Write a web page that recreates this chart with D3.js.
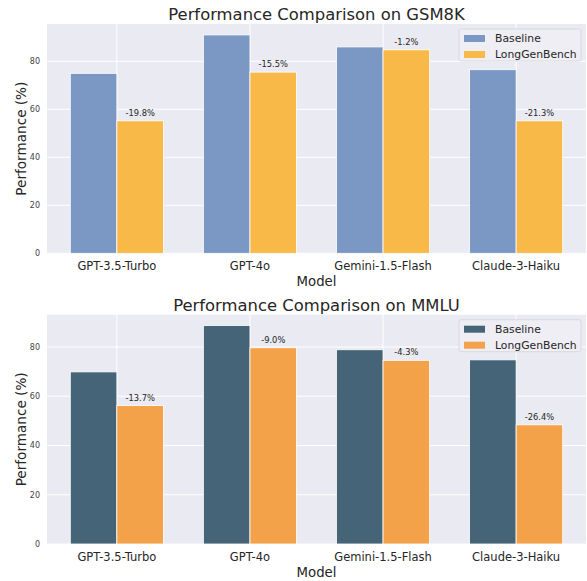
<!DOCTYPE html>
<html>
<head>
<meta charset="utf-8">
<script src="https://cdn.jsdelivr.net/npm/d3@7"></script>
<style>
  body { margin: 0; background: #fff; }
  svg { display: block; font-family: "DejaVu Sans", sans-serif; }
</style>
</head>
<body>
<svg id="chart" width="587" height="581"></svg>
<script>
// data
const models = ["GPT-3.5-Turbo", "GPT-4o", "Gemini-1.5-Flash", "Claude-3-Haiku"];
const seriesNames = ["Baseline", "LongGenBench"];
const yTicks = [0, 20, 40, 60, 80];

const gsmBaseline = [75.0, 91.0, 86.0, 76.5];
const gsmLongGen = [55.2, 75.5, 84.8, 55.2];
const gsmDrops = ["-19.8%", "-15.5%", "-1.2%", "-21.3%"];

const mmluBaseline = [69.9, 88.7, 78.9, 74.8];
const mmluLongGen = [56.2, 79.7, 74.6, 48.4];
const mmluDrops = ["-13.7%", "-9.0%", "-4.3%", "-26.4%"];

const svg = d3.select("#chart");
const textColor = "#262626";
const barW = 0.35;

function drawPanel(opts) {
    const { top, bottom, title, baseline, longgen, drops, colors } = opts;
    const left = 47, right = 586;

    const x = d3.scaleLinear().domain([-0.525, models.length - 1 + 0.525]).range([left, right]);
    const ymax = d3.max(baseline.concat(longgen)) * 1.05;
    const y = d3.scaleLinear().domain([0, ymax]).range([bottom, top]);

    const g = svg.append("g");

    // background
    g.append("rect")
        .attr("x", left).attr("y", top)
        .attr("width", right - left).attr("height", bottom - top)
        .attr("fill", "#eaeaf2");

    // grid
    g.append("g").selectAll("line.h")
        .data(yTicks)
        .join("line")
        .attr("x1", left).attr("x2", right)
        .attr("y1", d => y(d)).attr("y2", d => y(d))
        .attr("stroke", "#fff").attr("stroke-width", 1);
    g.append("g").selectAll("line.v")
        .data(models.map((m, i) => i))
        .join("line")
        .attr("x1", d => x(d)).attr("x2", d => x(d))
        .attr("y1", top).attr("y2", bottom)
        .attr("stroke", "#fff").attr("stroke-width", 1);

    // bars
    const series = [baseline, longgen];
    series.forEach((vals, s) => {
        g.append("g").selectAll("rect")
            .data(vals)
            .join("rect")
            .attr("x", (d, i) => x(i + (s === 0 ? -barW : 0)))
            .attr("y", d => y(d))
            .attr("width", x(barW) - x(0))
            .attr("height", d => bottom - y(d))
            .attr("fill", colors[s])
            .attr("stroke", "#fff")
            .attr("stroke-width", 0.8);
    });

    // drop labels
    g.append("g").selectAll("text")
        .data(longgen)
        .join("text")
        .attr("x", (d, i) => x(i + barW / 2))
        .attr("y", d => y(d) - 5)
        .attr("text-anchor", "middle")
        .attr("font-size", 8.3)
        .attr("fill", textColor)
        .text((d, i) => drops[i]);

    // y ticks
    g.append("g").selectAll("text")
        .data(yTicks)
        .join("text")
        .attr("x", 40)
        .attr("y", d => y(d))
        .attr("dy", "0.35em")
        .attr("text-anchor", "end")
        .attr("font-size", 8)
        .attr("fill", "#444")
        .text(d => d);

    // x ticks
    g.append("g").selectAll("text")
        .data(models)
        .join("text")
        .attr("x", (d, i) => x(i))
        .attr("y", bottom + 17)
        .attr("text-anchor", "middle")
        .attr("font-size", 11.5)
        .attr("fill", textColor)
        .text(d => d);

    // axis labels + title
    g.append("text")
        .attr("x", (left + right) / 2).attr("y", bottom + 33)
        .attr("text-anchor", "middle")
        .attr("font-size", 13.3)
        .attr("fill", textColor)
        .text("Model");
    g.append("text")
        .attr("transform", `translate(26,${(top + bottom) / 2}) rotate(-90)`)
        .attr("text-anchor", "middle")
        .attr("font-size", 13.6)
        .attr("fill", textColor)
        .text("Performance (%)");
    g.append("text")
        .attr("x", (left + right) / 2).attr("y", top - 4)
        .attr("text-anchor", "middle")
        .attr("font-size", 16.4)
        .attr("fill", textColor)
        .text(title);

    // legend
    const lx = 459, ly = top + 5;
    const leg = g.append("g");
    leg.append("rect")
        .attr("x", lx).attr("y", ly)
        .attr("width", 122).attr("height", 32)
        .attr("rx", 2.5)
        .attr("fill", "#eeeef4")
        .attr("stroke", "#d2d2d8")
        .attr("stroke-width", 0.8);
    seriesNames.forEach((name, s) => {
        const cy = ly + 9.5 + s * 16;
        leg.append("rect")
            .attr("x", lx + 5).attr("y", cy - 3.5)
            .attr("width", 21).attr("height", 7)
            .attr("fill", colors[s]);
        leg.append("text")
            .attr("x", lx + 36).attr("y", cy)
            .attr("dy", "0.35em")
            .attr("font-size", 10.8)
            .attr("fill", textColor)
            .text(name);
    });
}

drawPanel({
    top: 24, bottom: 253.3,
    title: "Performance Comparison on GSM8K",
    baseline: gsmBaseline, longgen: gsmLongGen, drops: gsmDrops,
    colors: ["#7b97c4", "#f8b948"]
});
drawPanel({
    top: 314.7, bottom: 544,
    title: "Performance Comparison on MMLU",
    baseline: mmluBaseline, longgen: mmluLongGen, drops: mmluDrops,
    colors: ["#466477", "#f4a24a"]
});
</script>
</body>
</html>
